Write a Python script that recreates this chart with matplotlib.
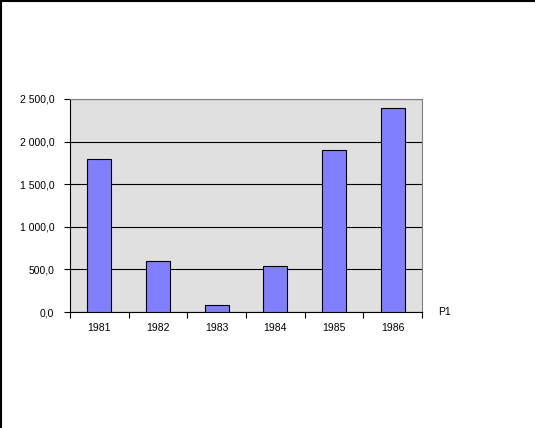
import matplotlib.pyplot as plt
import numpy as np

years = ['1981', '1982', '1983', '1984', '1985', '1986']
values = [1800, 600, 80, 540, 1900, 2400]
series_name = 'P1'

plt.rcParams['font.family'] = ['Liberation Sans', 'DejaVu Sans']

fig = plt.figure(figsize=(5.35, 4.28), dpi=100)
ax = fig.add_axes([70 / 535, 116 / 428, 352 / 535, 213 / 428])
ax.set_facecolor('#e0e0e0')

x = np.arange(len(years))
ax.bar(x, values, 0.41, color='#8080ff', edgecolor='black', linewidth=0.8, zorder=3)

ax.set_xlim(-0.5, len(years) - 0.5)
ax.set_ylim(0, 2500)
yt = np.arange(0, 2501, 500)
ax.set_yticks(yt)
ax.set_yticklabels([f'{v:,.1f}'.replace(',', ' ').replace('.', ',') for v in yt], fontsize=7.5)
ax.yaxis.grid(True, color='black', linewidth=0.8, zorder=1)

ax.set_xticks(x)
ax.set_xticklabels(years, fontsize=7.5)
ax.set_xticks(np.arange(-0.5, len(years)), minor=True)
ax.tick_params(axis='x', which='major', length=0, pad=8)
ax.tick_params(axis='x', which='minor', length=4.3, direction='out', width=0.8)
ax.tick_params(axis='y', length=4.3, direction='out', width=0.8, pad=7)

for s in ['top', 'right']:
    ax.spines[s].set_color('#808080')
    ax.spines[s].set_linewidth(0.8)
for s in ['left', 'bottom']:
    ax.spines[s].set_color('black')
    ax.spines[s].set_linewidth(0.8)

fig.text(438 / 535, 1 - 312 / 428, series_name, fontsize=7.5, va='center', ha='left')

# figure border (left and top only)
fig.add_artist(plt.Line2D([0.002, 0.002], [0, 1], color='black', linewidth=1.5))
fig.add_artist(plt.Line2D([0, 1], [0.998, 0.998], color='black', linewidth=1.5))

plt.savefig('out.png', dpi=100)
